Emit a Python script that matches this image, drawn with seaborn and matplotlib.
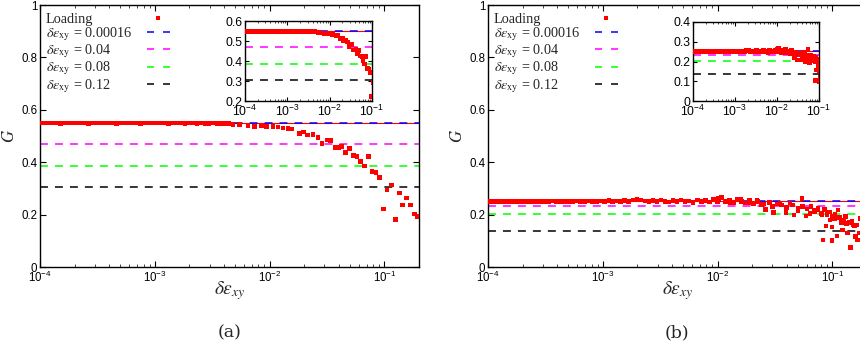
import numpy as np
import pandas as pd
import matplotlib
matplotlib.use("Agg")
import matplotlib.pyplot as plt
import seaborn as sns
from matplotlib.lines import Line2D
from matplotlib.ticker import FixedLocator, FuncFormatter, LogLocator, NullFormatter

# ---------------- data ----------------
strain_a = [1.00e-4, 1.08e-4, 1.17e-4, 1.27e-4, 1.38e-4, 1.50e-4, 1.62e-4, 1.76e-4, 1.91e-4, 2.07e-4,
            2.24e-4, 2.43e-4, 2.63e-4, 2.85e-4, 3.09e-4, 3.35e-4, 3.63e-4, 3.94e-4, 4.27e-4, 4.63e-4,
            5.02e-4, 5.44e-4, 5.90e-4, 6.40e-4, 6.93e-4, 7.52e-4, 8.15e-4, 8.83e-4, 9.57e-4, 1.04e-3,
            1.13e-3, 1.22e-3, 1.32e-3, 1.43e-3, 1.55e-3, 1.68e-3, 1.83e-3, 1.98e-3, 2.15e-3, 2.33e-3,
            2.52e-3, 2.73e-3, 2.96e-3, 3.21e-3, 3.48e-3, 3.77e-3, 4.09e-3, 4.43e-3,
            4.80e-3, 5.48e-3, 6.48e-3, 7.41e-3, 8.47e-3, 9.36e-3,
            1.07e-2, 1.18e-2, 1.31e-2, 1.44e-2, 1.57e-2, 1.82e-2, 1.98e-2, 2.15e-2, 2.38e-2, 2.63e-2,
            2.87e-2, 3.15e-2, 3.37e-2, 3.70e-2, 4.01e-2, 4.23e-2, 4.58e-2, 4.96e-2, 5.37e-2, 5.79e-2,
            6.18e-2, 6.70e-2, 7.26e-2, 7.82e-2, 8.47e-2, 9.05e-2, 9.80e-2,
            0.1055, 0.115, 0.1246, 0.135, 0.144, 0.156, 0.169, 0.182, 0.195]
G_a = [0.549, 0.549, 0.550, 0.549, 0.549, 0.548, 0.549, 0.549, 0.550, 0.549,
       0.549, 0.549, 0.548, 0.549, 0.549, 0.550, 0.549, 0.549, 0.549, 0.548,
       0.549, 0.549, 0.550, 0.549, 0.549, 0.548, 0.549, 0.549, 0.549, 0.549,
       0.550, 0.549, 0.548, 0.549, 0.549, 0.549, 0.548, 0.549, 0.549, 0.548,
       0.549, 0.548, 0.548, 0.549, 0.548, 0.547, 0.548, 0.547,
       0.545, 0.543, 0.540, 0.537, 0.538, 0.536,
       0.536, 0.534, 0.530, 0.528, 0.527, 0.510, 0.515, 0.504, 0.505, 0.495,
       0.471, 0.485, 0.482, 0.455, 0.455, 0.459, 0.436, 0.452, 0.425, 0.421,
       0.402, 0.385, 0.421, 0.364, 0.360, 0.342, 0.221,
       0.294, 0.313, 0.182, 0.282, 0.236, 0.264, 0.236, 0.202, 0.192]

strain_b = [1.00e-4, 1.08e-4, 1.17e-4, 1.27e-4, 1.38e-4, 1.50e-4, 1.62e-4, 1.76e-4, 1.91e-4, 2.07e-4,
            2.24e-4, 2.43e-4, 2.63e-4, 2.85e-4, 3.09e-4, 3.35e-4, 3.63e-4, 3.94e-4, 4.27e-4, 4.63e-4,
            5.02e-4, 5.44e-4, 5.90e-4, 6.40e-4, 6.93e-4, 7.52e-4, 8.15e-4, 8.83e-4, 9.57e-4, 1.04e-3,
            1.13e-3, 1.22e-3, 1.32e-3, 1.43e-3, 1.55e-3, 1.68e-3, 1.83e-3, 1.98e-3, 2.15e-3, 2.33e-3,
            2.52e-3, 2.73e-3, 2.96e-3, 3.21e-3, 3.48e-3, 3.77e-3, 4.09e-3, 4.43e-3, 4.80e-3, 5.21e-3,
            5.65e-3, 6.12e-3, 6.64e-3, 7.20e-3, 7.80e-3, 8.46e-3, 9.17e-3, 9.94e-3,
            1.08e-2, 1.17e-2, 1.27e-2, 1.37e-2, 1.49e-2, 1.61e-2, 1.75e-2, 1.90e-2, 2.06e-2, 2.23e-2,
            2.42e-2, 2.62e-2, 2.84e-2, 3.08e-2, 3.34e-2, 3.62e-2, 3.93e-2, 4.26e-2, 4.62e-2, 5.01e-2,
            5.43e-2, 5.89e-2, 6.38e-2, 6.92e-2, 7.50e-2, 8.13e-2, 8.82e-2,
            9.56e-2, 0.104, 0.112, 0.122, 0.132, 0.143, 0.155, 0.168, 0.182, 0.198]
G_b = [0.251, 0.251, 0.250, 0.251, 0.251, 0.250, 0.251, 0.251, 0.250, 0.251,
       0.251, 0.250, 0.251, 0.251, 0.250, 0.251, 0.252, 0.251, 0.250, 0.251,
       0.251, 0.250, 0.252, 0.251, 0.250, 0.252, 0.251, 0.250, 0.252, 0.251,
       0.253, 0.250, 0.252, 0.251, 0.254, 0.250, 0.256, 0.258, 0.255, 0.252,
       0.250, 0.253, 0.249, 0.255, 0.251, 0.248, 0.254, 0.250, 0.256, 0.249,
       0.252, 0.247, 0.255, 0.250, 0.253, 0.248, 0.257, 0.251,
       0.266, 0.249, 0.255, 0.246, 0.258, 0.250, 0.244, 0.253, 0.242, 0.251,
       0.238, 0.220, 0.247, 0.207, 0.240, 0.236, 0.207, 0.245, 0.198, 0.214,
       0.262, 0.194, 0.205, 0.215, 0.217, 0.198, 0.157,
       0.179, 0.186, 0.217, 0.141, 0.166, 0.074, 0.157, 0.103, 0.144, 0.120]
strain_b_scatter = [0.0102, 0.013, 0.016, 0.019, 0.022, 0.025, 0.030, 0.035, 0.040, 0.045,
                    0.050, 0.055, 0.060, 0.065, 0.070, 0.075, 0.080, 0.083, 0.085, 0.090,
                    0.094, 0.0995, 0.0995, 0.0995, 0.105, 0.110, 0.115, 0.120, 0.125, 0.130,
                    0.135, 0.140, 0.148, 0.152, 0.158, 0.163, 0.166, 0.170, 0.175]
G_b_scatter = [0.262, 0.247, 0.260, 0.244, 0.255, 0.240, 0.232, 0.243, 0.228, 0.236,
               0.225, 0.232, 0.222, 0.230, 0.212, 0.225, 0.205, 0.103, 0.220, 0.200,
               0.210, 0.192, 0.153, 0.100, 0.200, 0.118, 0.190, 0.169, 0.180, 0.192,
               0.130, 0.170, 0.173, 0.160, 0.117, 0.160, 0.103, 0.130, 0.185]

level_labels = ["0.00016", "0.04", "0.08", "0.12"]
levels_a = [0.549, 0.468, 0.384, 0.306]
levels_b = [0.252, 0.233, 0.202, 0.139]
level_colors = ["#0000ff", "#ff00ff", "#00ff00", "#000000"]

yticks_main = [0, 0.2, 0.4, 0.6, 0.8, 1.0]
yticks_inset_a = [0.2, 0.3, 0.4, 0.5, 0.6]
yticks_inset_b = [0.0, 0.1, 0.2, 0.3, 0.4]
xticks = [1e-4, 1e-3, 1e-2, 1e-1]

# ---------------- style ----------------
sns.set_theme(style="ticks")
plt.rcParams["font.family"] = ["Liberation Sans", "DejaVu Sans"]
plt.rcParams["mathtext.fontset"] = "stix"
plt.rcParams["axes.linewidth"] = 1.0

W, H = 860, 351
fig = plt.figure(figsize=(W / 100, H / 100), dpi=100)

def frac(l, t, r, b):
    return [l / W, 1 - b / H, (r - l) / W, (b - t) / H]

DASH = (5.2, 4.6)

def log_fmt(v, pos):
    return r"$\mathdefault{10^{%d}}$" % int(round(np.log10(v)))

def g_fmt(v, pos):
    return "%g" % round(v, 3)

def style_axes(ax, yt, xlim, ylim, fs):
    ax.set_xscale("log")
    ax.set_xlim(*xlim)
    ax.set_ylim(*ylim)
    ax.xaxis.set_major_locator(FixedLocator(xticks))
    ax.xaxis.set_major_formatter(FuncFormatter(log_fmt))
    ax.xaxis.set_minor_locator(LogLocator(base=10, subs=np.arange(2, 10), numticks=20))
    ax.xaxis.set_minor_formatter(NullFormatter())
    ax.yaxis.set_major_locator(FixedLocator(yt))
    ax.yaxis.set_major_formatter(FuncFormatter(g_fmt))
    ax.tick_params(which="major", direction="in", length=4, width=0.8,
                   top=True, right=True, labelsize=fs, pad=2, colors="black")
    ax.tick_params(which="minor", direction="in", length=2.2, width=0.6,
                   top=True, right=True)
    ax.tick_params(axis="y", which="minor", left=False, right=False)
    for s in ax.spines.values():
        s.set_visible(True)
        s.set_linewidth(1.0)
        s.set_color("black")
    ax.set_facecolor("white")

def draw_data(ax, x, y, levels, msize):
    ax.axhline(levels[0], color="#ff0000", lw=0.8, zorder=1)
    for lv, c in zip(levels, level_colors):
        ax.axhline(lv, color=c, lw=1.1, dashes=DASH, zorder=2)
    df = pd.DataFrame({"strain": x, "G": y})
    sns.scatterplot(data=df, x="strain", y="G", ax=ax, marker="s", s=msize,
                    color="#ff0000", edgecolor="none", linewidth=0, zorder=3, legend=False)
    ax.set_xlabel("")
    ax.set_ylabel("")

def legend(ax, width_px):
    handles = [Line2D([], [], ls="none", marker="s", color="#ff0000", ms=3.4, mew=0)]
    labels = ["Loading"]
    for lab, c in zip(level_labels, level_colors):
        handles.append(Line2D([], [], color=c, lw=1.1, dashes=(4.6, 5.9)))
        labels.append(r"$\delta\varepsilon_{\rm xy}$ = " + lab)
    prop = {"family": "Liberation Serif", "size": 10.3}
    common = dict(loc="upper left", frameon=False, labelspacing=-0.04,
                  borderaxespad=0, borderpad=0, prop=prop)
    blanks = [Line2D([], [], ls="none") for _ in labels]
    y0 = 1 - 8 / 262
    leg1 = ax.legend(blanks, labels, bbox_to_anchor=(6 / width_px, y0),
                     handlelength=0, handletextpad=0, **common)
    ax.add_artist(leg1)
    leg2 = ax.legend(handles, labels, bbox_to_anchor=(107 / width_px, y0),
                     handlelength=1.6, handletextpad=0, **common)
    for t in leg2.get_texts():
        t.set_alpha(0)

panels = [
    (frac(40, 5, 419, 267), frac(245, 21, 372, 101), strain_a, G_a, levels_a, yticks_inset_a, (0.2, 0.6), 230, "(a)"),
    (frac(488, 5, 867, 267), frac(693, 22, 819, 101),
     strain_b + strain_b_scatter, G_b + G_b_scatter, levels_b, yticks_inset_b, (0.0, 0.4), 677, "(b)"),
]

for main_rect, ins_rect, x, y, lv, yt_in, ylim_in, cx, cap in panels:
    ax = fig.add_axes(main_rect)
    draw_data(ax, x, y, lv, 11)
    style_axes(ax, yticks_main, (1e-4, 0.2), (0, 1), 8.3)
    ax.set_ylabel(r"$G$", fontsize=12, labelpad=3)
    ax.set_xlabel(r"$\delta\varepsilon_{xy}$", fontsize=14, labelpad=-4)
    legend(ax, 379)

    axi = fig.add_axes(ins_rect)
    draw_data(axi, x, y, lv, 11)
    style_axes(axi, yt_in, (1e-4, 1e-1), ylim_in, 8.8)
    axi.tick_params(which="major", length=3)
    axi.tick_params(which="minor", length=1.6)

    fig.text(cx / W, 1 - 333 / H, cap, ha="center", va="center",
             family="DejaVu Serif", fontsize=12.5)

fig.savefig("out.png", dpi=100, facecolor="white")
